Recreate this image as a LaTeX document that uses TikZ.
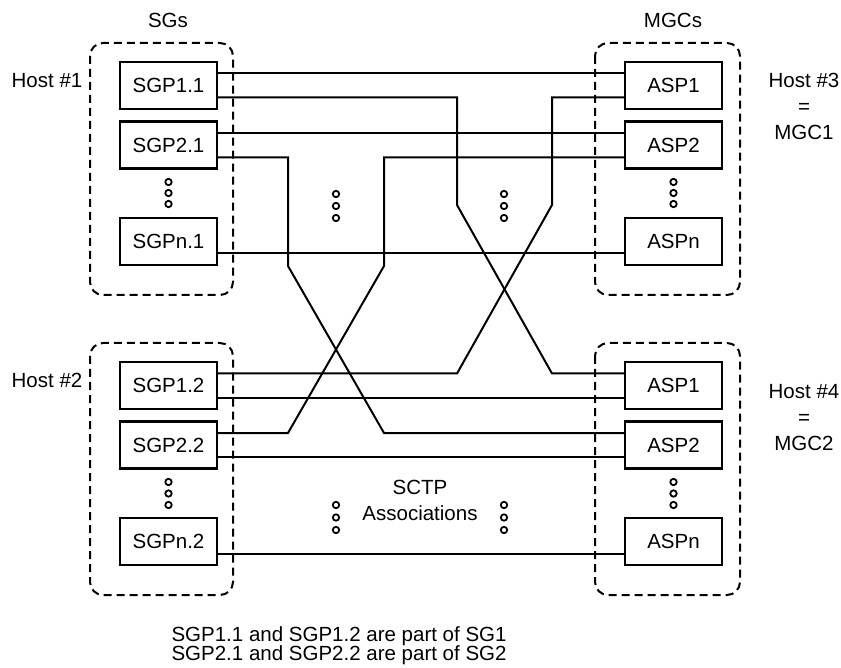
\documentclass[tikz,border=0pt]{standalone}
\usepackage{fontspec}
\setmainfont{Liberation Sans}
\begin{document}
\begin{tikzpicture}[x=1pt,y=-1pt,
  every node/.style={font=\fontsize{20.5}{26}\selectfont, text=black},
  procbox/.style={draw, line width=2.2pt, minimum width=97pt, minimum height=47pt, inner sep=0pt},
  link/.style={line width=2pt},
  hostbox/.style={draw, line width=2pt, dash pattern=on 8pt off 5pt, rounded corners=13pt},
  dot/.style={line width=1.8pt}]
\useasboundingbox (0,0) rectangle (841,668);

% host frames
\draw[hostbox] (90,43) rectangle (233,295);
\draw[hostbox] (90,343) rectangle (233,595);
\draw[hostbox] (595,43) rectangle (740,295);
\draw[hostbox] (595,343) rectangle (740,595);

% processes
\node[procbox] (sgp11) at (168.5,85.5) {SGP1.1};
\node[procbox] (sgp21) at (168.5,145) {SGP2.1};
\node[procbox] (sgpn1) at (168.5,241.5) {SGPn.1};
\node[procbox] (sgp12) at (168.5,385.5) {SGP1.2};
\node[procbox] (sgp22) at (168.5,445) {SGP2.2};
\node[procbox] (sgpn2) at (168.5,541.5) {SGPn.2};
\node[procbox] (asp1t) at (673.5,85.5) {ASP1};
\node[procbox] (asp2t) at (673.5,145) {ASP2};
\node[procbox] (aspnt) at (673.5,241.5) {ASPn};
\node[procbox] (asp1b) at (673.5,385.5) {ASP1};
\node[procbox] (asp2b) at (673.5,445) {ASP2};
\node[procbox] (aspnb) at (673.5,541.5) {ASPn};

% labels
\node (sgs) at (168,20) {SGs};
\node (mgcs) at (673,20) {MGCs};
\node (h1) at (47,81) {Host \#1};
\node (h2) at (47,380) {Host \#2};
\node[align=center] (h3) at (804,106.5) {Host \#3\\=\\MGC1};
\node[align=center] (h4) at (804,417.5) {Host \#4\\=\\MGC2};
\node[align=center] (sctp) at (420,500.5) {SCTP\\Associations};
\node[anchor=base west] (note1) at (168,641) {SGP1.1 and SGP1.2 are part of SG1};
\node[anchor=base west] (note2) at (168,660) {SGP2.1 and SGP2.2 are part of SG2};

% straight associations
\draw[link] (sgp11.east |- 0,73.5) -- (asp1t.west |- 0,73.5);
\draw[link] (sgp21.east |- 0,133.5) -- (asp2t.west |- 0,133.5);
\draw[link] (sgpn1.east |- 0,253.5) -- (aspnt.west |- 0,253.5);
\draw[link] (sgp12.east |- 0,397.5) -- (asp1b.west |- 0,397.5);
\draw[link] (sgp22.east |- 0,457) -- (asp2b.west |- 0,457);
\draw[link] (sgpn2.east |- 0,554) -- (aspnb.west |- 0,554);

% crossing associations
\draw[link] (sgp11.east |- 0,97.5) -| (457,205) -- (552,373.5) -- (asp1b.west |- 0,373.5);
\draw[link] (sgp21.east |- 0,157.5) -| (288,266) -- (384,433) -- (asp2b.west |- 0,433);
\draw[link] (asp1t.west |- 0,97.5) -| (552,205) -- (457,373.5) -- (sgp12.east |- 0,373.5);
\draw[link] (asp2t.west |- 0,157.5) -| (384,266) -- (288,433) -- (sgp22.east |- 0,433);

% ellipsis dots
\foreach \x in {168.5,673.5} {
  \foreach \y in {182,193,204,482,493.5,505} {
    \draw[dot] (\x,\y) circle[radius=3.2pt];
  }
}
\foreach \x in {336,504} {
  \foreach \y in {194,206,218,505,517.5,530} {
    \draw[dot] (\x,\y) circle[radius=3.2pt];
  }
}
\end{tikzpicture}
\end{document}
